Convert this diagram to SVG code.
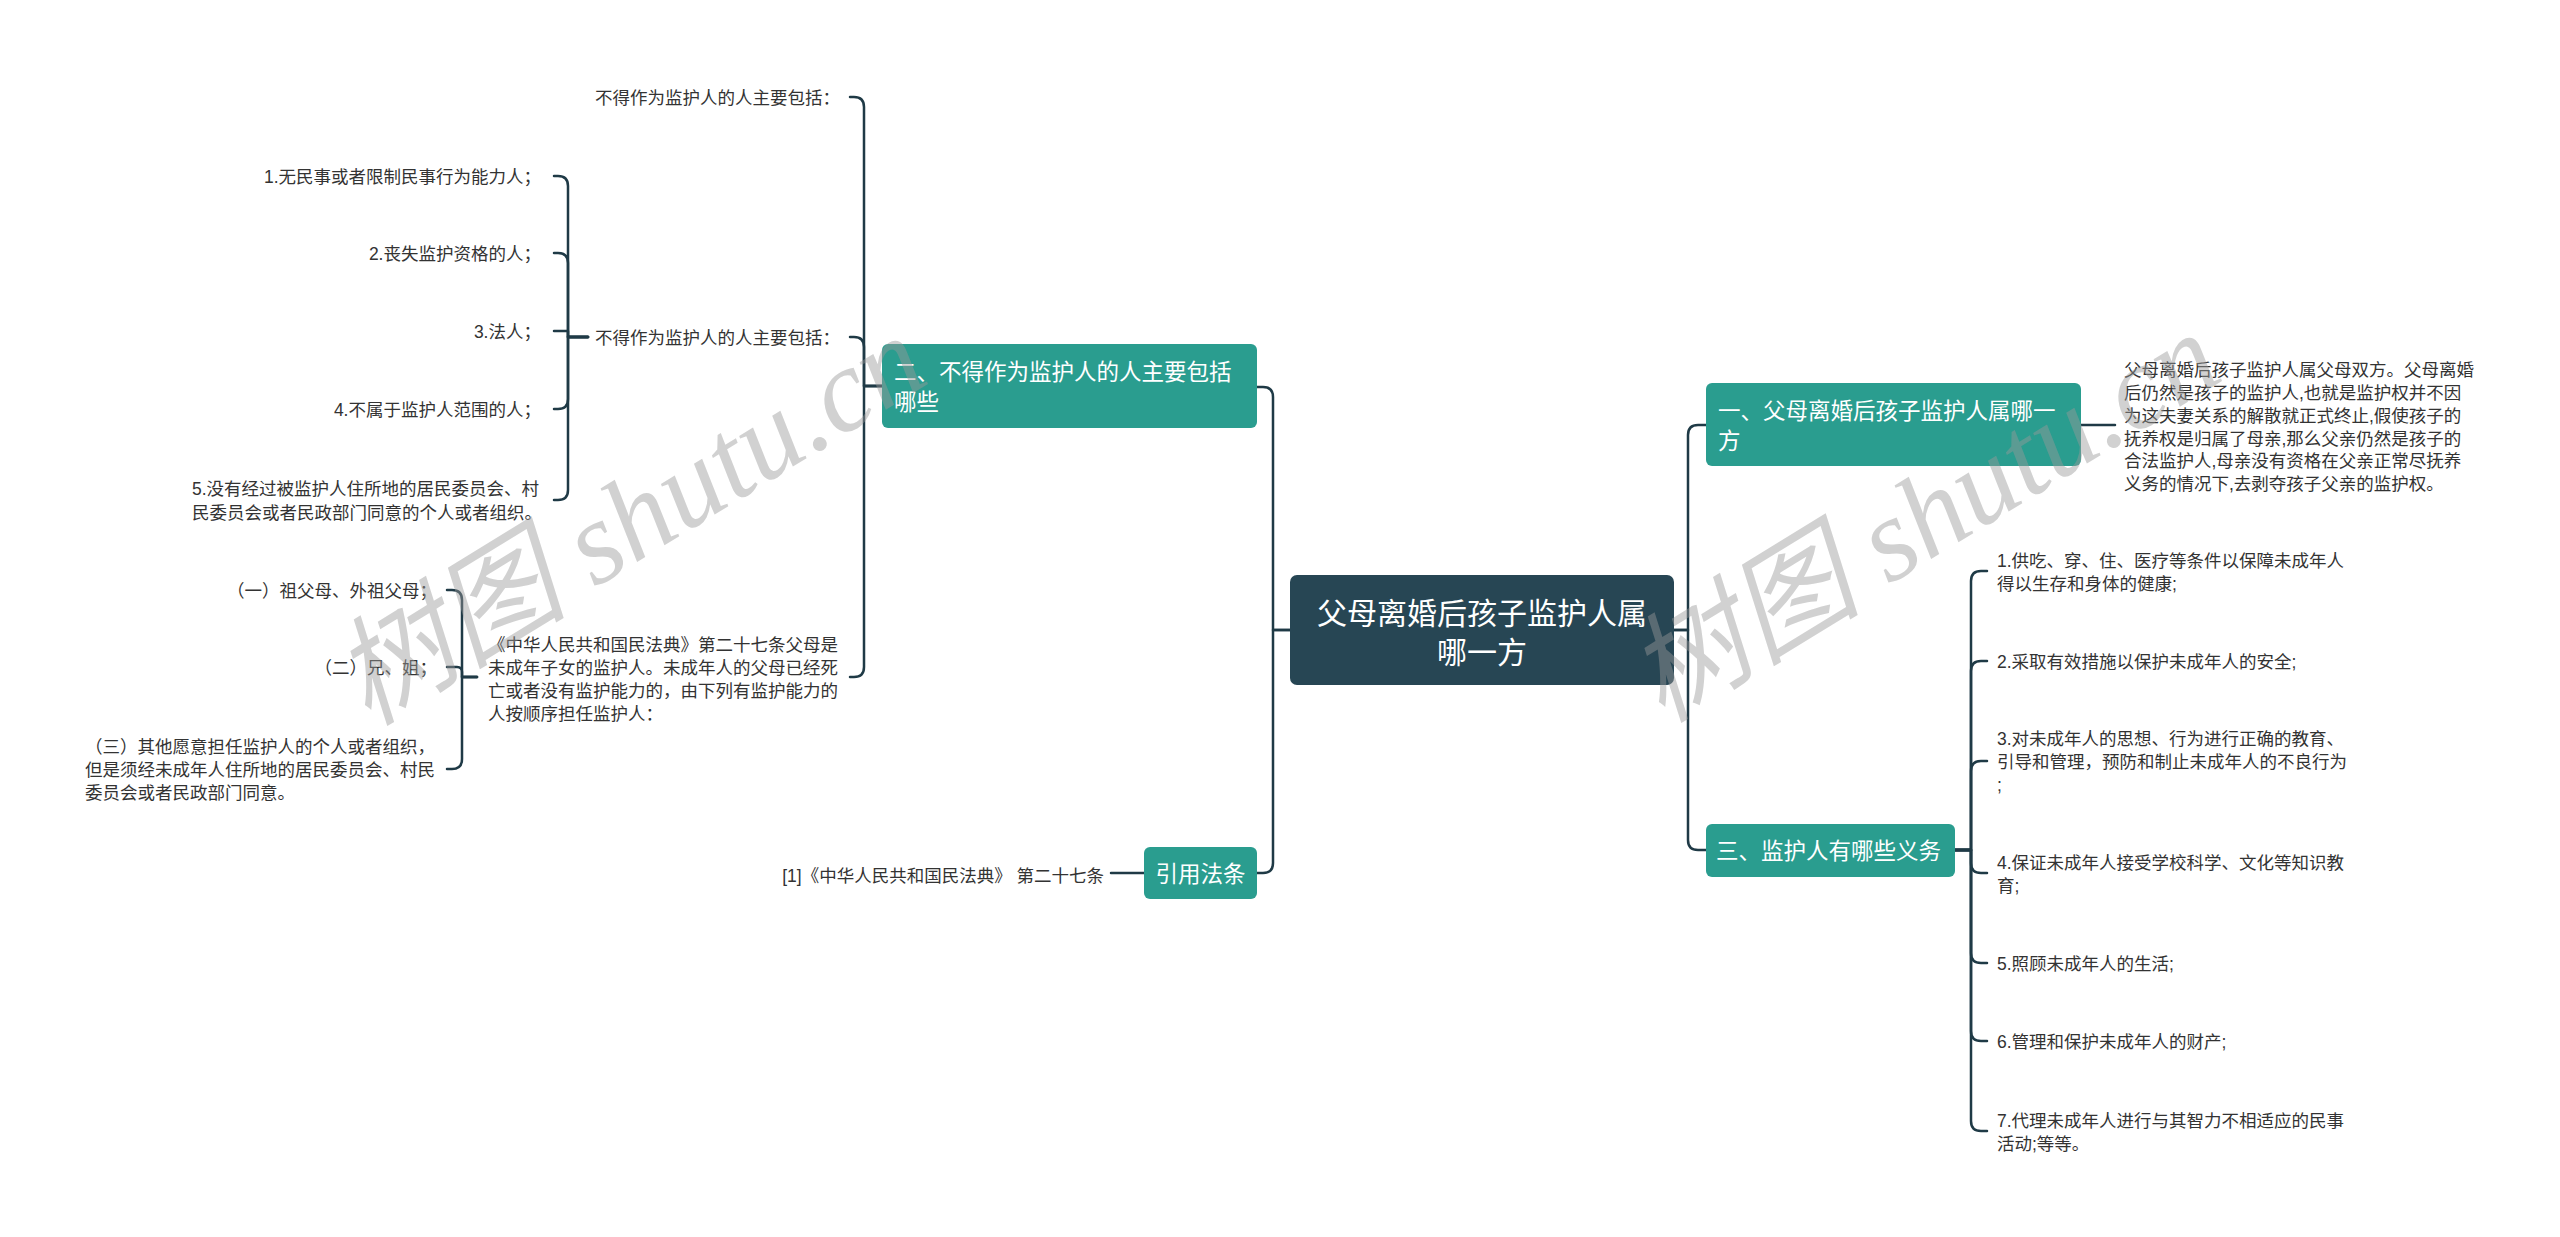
<svg xmlns="http://www.w3.org/2000/svg" width="2560" height="1237" viewBox="0 0 2560 1237">
<style>
.bg{fill:#ffffff}
.root{fill:#274654}
.main{fill:#2a9d8f}
.tw{fill:#ffffff;font-family:"Liberation Sans","Noto Sans CJK SC",sans-serif}
.t{fill:#333333;font-family:"Liberation Sans","Noto Sans CJK SC",sans-serif;font-size:17.5px}
.c{fill:none;stroke:#1f3a46;stroke-width:2.5;stroke-linecap:round;stroke-linejoin:round}
.wm{fill:#9a9a9a;fill-opacity:0.45;font-family:"Liberation Serif","Noto Sans CJK SC",serif;font-style:italic;font-size:118px}
</style>
<rect class="bg" x="0" y="0" width="2560" height="1237"/>

<g id="connectors">
  <path class="c" d="M1290,630 H1273 V397 Q1273,387 1263,387 H1257"/>
  <path class="c" d="M1290,630 H1273 V863 Q1273,873 1263,873 H1257"/>
  <path class="c" d="M1674,630 H1688 V435 Q1688,425 1698,425 H1706"/>
  <path class="c" d="M1674,630 H1688 V840 Q1688,850 1698,850 H1706"/>
  <path class="c" d="M2081,425 H2115"/>
  <path class="c" d="M1144,873 H1111"/>
  <path class="c" d="M882,386 H864 V107 Q864,97 854,97 H850"/>
  <path class="c" d="M882,386 H864 V347 Q864,337 854,337 H850"/>
  <path class="c" d="M882,386 H864 V667 Q864,677 854,677 H850"/>
  <path class="c" d="M588,337 H568 V186 Q568,176 558,176 H554"/>
  <path class="c" d="M588,337 H568 V263 Q568,253 558,253 H554"/>
  <path class="c" d="M588,337 H568 V331 H554"/>
  <path class="c" d="M588,337 H568 V399 Q568,409 558,409 H554"/>
  <path class="c" d="M588,337 H568 V490 Q568,500 558,500 H554"/>
  <path class="c" d="M477,677 H462 V600 Q462,590 452,590 H447"/>
  <path class="c" d="M477,677 H462 V672 Q462,667 457,667 H447"/>
  <path class="c" d="M477,677 H462 V759 Q462,769 452,769 H447"/>
  <path class="c" d="M1955,850 H1971 V581 Q1971,571 1981,571 H1987"/>
  <path class="c" d="M1955,850 H1971 V671 Q1971,661 1981,661 H1987"/>
  <path class="c" d="M1955,850 H1971 V771 Q1971,761 1981,761 H1987"/>
  <path class="c" d="M1955,850 H1971 V863 Q1971,873 1981,873 H1987"/>
  <path class="c" d="M1955,850 H1971 V953 Q1971,963 1981,963 H1987"/>
  <path class="c" d="M1955,850 H1971 V1031 Q1971,1041 1981,1041 H1987"/>
  <path class="c" d="M1955,850 H1971 V1121 Q1971,1131 1981,1131 H1987"/>
</g>

<g id="root">
  <rect class="root" x="1290" y="575" width="384" height="110" rx="7"/>
  <text class="tw" x="1482" y="624" font-size="30" text-anchor="middle">父母离婚后孩子监护人属</text>
  <text class="tw" x="1482" y="663" font-size="30" text-anchor="middle">哪一方</text>
</g>

<g id="n1">
  <rect class="main" x="1706" y="383" width="375" height="83" rx="6"/>
  <text class="tw" x="1718" y="419" font-size="22.5">一、父母离婚后孩子监护人属哪一</text>
  <text class="tw" x="1718" y="449" font-size="22.5">方</text>
</g>
<g id="n1-desc">
  <text class="t" x="2124" y="375.5">父母离婚后孩子监护人属父母双方。父母离婚</text>
  <text class="t" x="2124" y="398.5">后仍然是孩子的监护人,也就是监护权并不因</text>
  <text class="t" x="2124" y="421.5">为这夫妻关系的解散就正式终止,假使孩子的</text>
  <text class="t" x="2124" y="444.5">抚养权是归属了母亲,那么父亲仍然是孩子的</text>
  <text class="t" x="2124" y="466.5">合法监护人,母亲没有资格在父亲正常尽抚养</text>
  <text class="t" x="2124" y="489.5">义务的情况下,去剥夺孩子父亲的监护权。</text>
</g>

<g id="n3">
  <rect class="main" x="1706" y="824" width="249" height="53" rx="6"/>
  <text class="tw" x="1716" y="859" font-size="22.5">三、监护人有哪些义务</text>
</g>
<g id="n3-c1"><text class="t" x="1997" y="566.5">1.供吃、穿、住、医疗等条件以保障未成年人</text><text class="t" x="1997" y="589.5">得以生存和身体的健康;</text></g>
<g id="n3-c2"><text class="t" x="1997" y="667.5">2.采取有效措施以保护未成年人的安全;</text></g>
<g id="n3-c3"><text class="t" x="1997" y="744.5">3.对未成年人的思想、行为进行正确的教育、</text><text class="t" x="1997" y="767.5">引导和管理，预防和制止未成年人的不良行为</text><text class="t" x="1997" y="790.5">;</text></g>
<g id="n3-c4"><text class="t" x="1997" y="868.5">4.保证未成年人接受学校科学、文化等知识教</text><text class="t" x="1997" y="891.5">育;</text></g>
<g id="n3-c5"><text class="t" x="1997" y="969.5">5.照顾未成年人的生活;</text></g>
<g id="n3-c6"><text class="t" x="1997" y="1047.5">6.管理和保护未成年人的财产;</text></g>
<g id="n3-c7"><text class="t" x="1997" y="1126.5">7.代理未成年人进行与其智力不相适应的民事</text><text class="t" x="1997" y="1149.5">活动;等等。</text></g>

<g id="n2">
  <rect class="main" x="882" y="344" width="375" height="84" rx="6"/>
  <text class="tw" x="894" y="380" font-size="22.5">二、不得作为监护人的人主要包括</text>
  <text class="tw" x="894" y="410" font-size="22.5">哪些</text>
</g>
<g id="n2-c1"><text class="t" x="840" y="103.5" text-anchor="end">不得作为监护人的人主要包括：</text></g>
<g id="n2-c2"><text class="t" x="840" y="343.5" text-anchor="end">不得作为监护人的人主要包括：</text></g>
<g id="n2-c2-1"><text class="t" x="541" y="182.5" text-anchor="end">1.无民事或者限制民事行为能力人；</text></g>
<g id="n2-c2-2"><text class="t" x="541" y="259.5" text-anchor="end">2.丧失监护资格的人；</text></g>
<g id="n2-c2-3"><text class="t" x="541" y="337.5" text-anchor="end">3.法人；</text></g>
<g id="n2-c2-4"><text class="t" x="541" y="415.5" text-anchor="end">4.不属于监护人范围的人；</text></g>
<g id="n2-c2-5"><text class="t" x="192" y="494.5">5.没有经过被监护人住所地的居民委员会、村</text><text class="t" x="192" y="518.5">民委员会或者民政部门同意的个人或者组织。</text></g>
<g id="n2-c3">
  <text class="t" x="488" y="650.5">《中华人民共和国民法典》第二十七条父母是</text>
  <text class="t" x="488" y="673.5">未成年子女的监护人。未成年人的父母已经死</text>
  <text class="t" x="488" y="696.5">亡或者没有监护能力的，由下列有监护能力的</text>
  <text class="t" x="488" y="719.5">人按顺序担任监护人：</text>
</g>
<g id="n2-c3-1"><text class="t" x="437" y="596.5" text-anchor="end">（一）祖父母、外祖父母；</text></g>
<g id="n2-c3-2"><text class="t" x="437" y="673.5" text-anchor="end">（二）兄、姐；</text></g>
<g id="n2-c3-3"><text class="t" x="85" y="752.5">（三）其他愿意担任监护人的个人或者组织，</text><text class="t" x="85" y="775.5">但是须经未成年人住所地的居民委员会、村民</text><text class="t" x="85" y="798.5">委员会或者民政部门同意。</text></g>

<g id="n4">
  <rect class="main" x="1144" y="847" width="113" height="52" rx="6"/>
  <text class="tw" x="1200.5" y="881.5" font-size="22.5" text-anchor="middle">引用法条</text>
</g>
<g id="n4-c1"><text class="t" x="1104" y="881.5" text-anchor="end">[1]《中华人民共和国民法典》 第二十七条</text></g>

<g id="watermark">
  <text class="wm" transform="translate(368,727) rotate(-31.5)">树图 shutu.cn</text>
  <text class="wm" transform="translate(1662,724) rotate(-31.5)">树图 shutu.cn</text>
</g>
</svg>
